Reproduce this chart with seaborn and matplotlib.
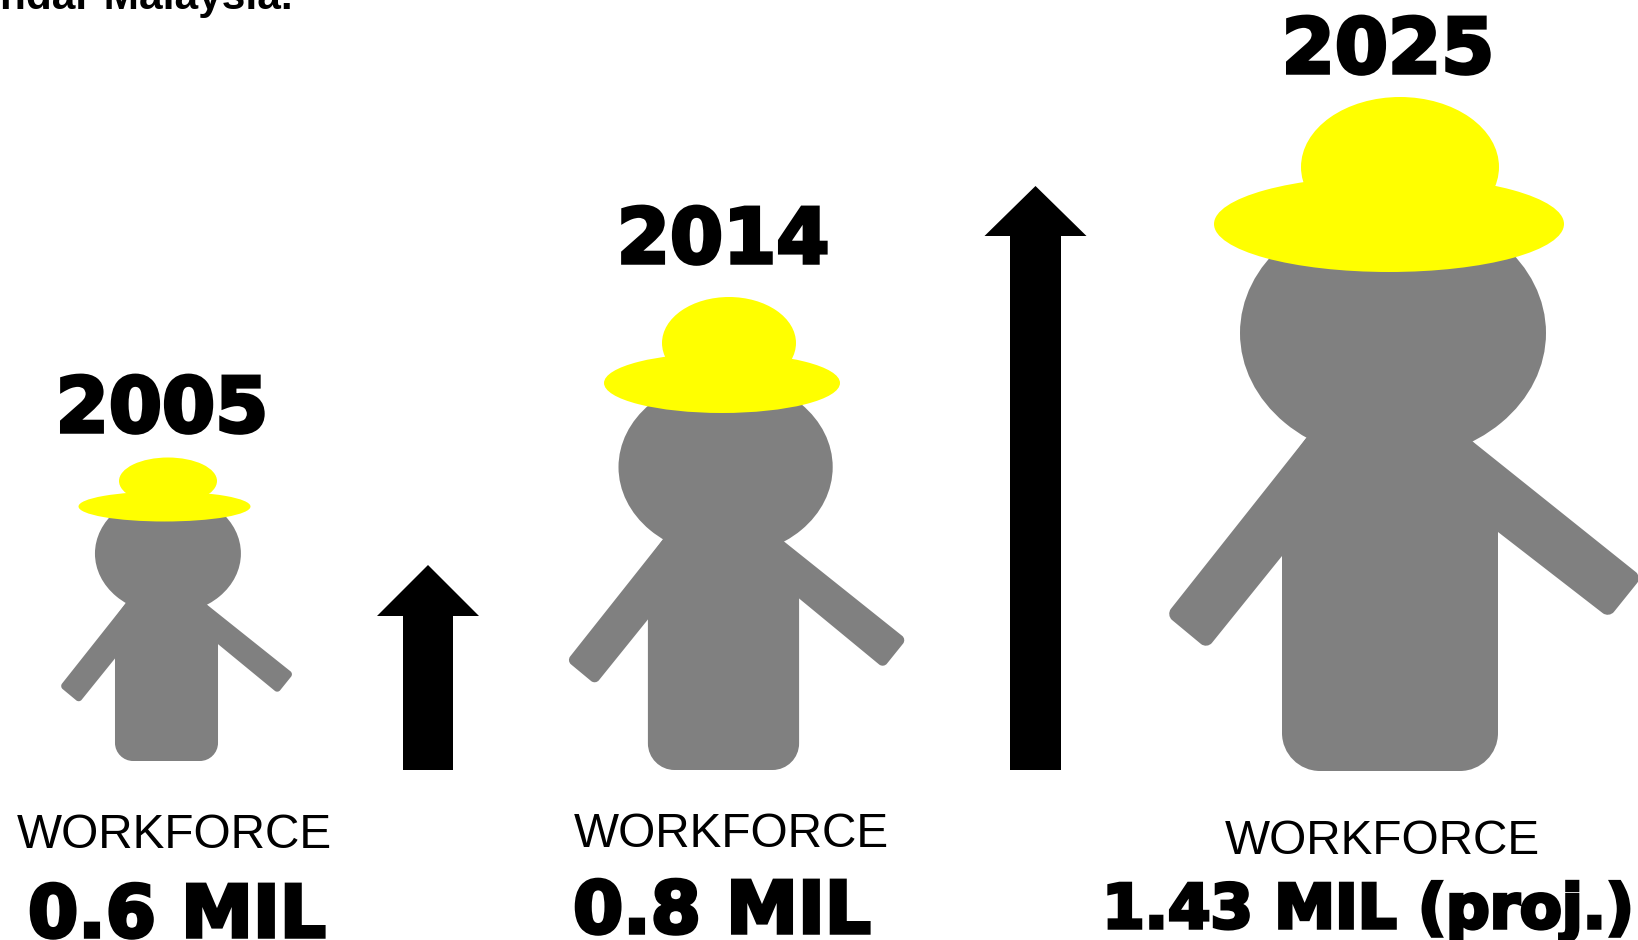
import matplotlib
matplotlib.use("Agg")
import matplotlib.pyplot as plt
import matplotlib.patheffects as pe
from matplotlib.patches import Ellipse, PathPatch
from matplotlib.path import Path
import numpy as np
import seaborn as sns

# data
years = ["2005", "2014", "2025"]
workforce_mil = [0.6, 0.8, 1.43]
value_suffix = ["", "", " (proj.)"]
top_note = "ndar Malaysia."

# layout, in reference pixels
FIG_W, FIG_H = 1638, 940
BASE = 770
fig_scale = [0.477, 0.70, 1.0]
fig_x = [166.5, 723.5, 1390]
fig_bottom = [761, 770, 771]
head_dy = [-1, -3, 1]
right_reach = [18, 12, 0]
right_inner = [245, 245, 239]
# hats: centre x, centre y, half width, half height
crowns = [(168, 481, 49, 23.5), (729, 343, 67, 46), (1400, 167, 99, 70)]
brims = [(164.5, 506.5, 86, 15), (722, 383, 118, 30), (1389, 224, 175, 48)]
year_pos = [(162, 432), (723, 263), (1388, 73)]
word_pos = [(174, 848), (731, 847), (1382, 854)]
value_pos = [(177, 937), (722, 933), (1368, 928)]
value_size = [52, 52, 44]
arrow_x = [428, 1035.5]
arrow_tip = [565, 186]
arrow_neck = [616, 236]
shaft_tops = [BASE - y + 1 for y in arrow_neck]
GREY = "#808080"
YELLOW = "#ffff00"

sns.set_theme(style="white")
plt.rcParams["font.family"] = ["Liberation Sans", "DejaVu Sans"]

fig = plt.figure(figsize=(FIG_W / 100, FIG_H / 100), dpi=100)
ax = fig.add_axes([0, 0, 1, 1])


def py(y):
    return BASE - y


def rounded_poly(pts, radii):
    # polygon with circular looking corners
    pts = np.array(pts, dtype=float)
    n = len(pts)
    verts, codes = [], []
    for i in range(n):
        p, a, b = pts[i], pts[i - 1], pts[(i + 1) % n]
        r = radii[i]
        p1 = p + (a - p) / np.linalg.norm(a - p) * r
        p2 = p + (b - p) / np.linalg.norm(b - p) * r
        verts += [p1, p1 + (p - p1) * 0.55, p2 + (p - p2) * 0.55, p2]
        codes += [Path.MOVETO if i == 0 else Path.LINETO, Path.CURVE4, Path.CURVE4, Path.CURVE4]
    verts.append(verts[0])
    codes.append(Path.CLOSEPOLY)
    return Path(verts, codes)


def person(i):
    cx, bottom, s = fig_x[i], fig_bottom[i], fig_scale[i]
    reach_x, reach_y = right_reach[i] * 0.79, right_reach[i] * 0.61

    def P(x, up):
        return (cx + x * s, py(bottom - up * s))

    parts = [
        # body
        ([P(-108, 0), P(108, 0), P(108, 300), P(82, 330), P(-83, 334), P(-108, 300)],
         [38 * s, 38 * s, 0.1, 0.1, 0.1, 0.1]),
        # left arm
        ([P(-83, 334), P(-108, 215), P(-183, 122), P(-224, 156)], [0.1, 0.1, 8 * s, 8 * s]),
        # right arm
        ([P(82, 330), P(252 + reach_x, 194 - reach_y), P(219 + reach_x, 153 - reach_y),
          P(108, right_inner[i])], [0.1, 8 * s, 8 * s, 0.1]),
    ]
    for pts, radii in parts:
        ax.add_patch(PathPatch(rounded_poly(pts, radii), fc=GREY, ec="none", zorder=2))
    ax.add_patch(Ellipse(P(3, 437 + head_dy[i] / s), 306 * s, 254 * s, fc=GREY, ec="none", zorder=2))
    # hat
    for hx, hy, rx, ry in (crowns[i], brims[i]):
        ax.add_patch(Ellipse((hx, py(hy)), 2 * rx, 2 * ry, fc=YELLOW, ec="none", zorder=3))


# arrow shafts as bars standing on the base line
sns.barplot(x=arrow_x, y=shaft_tops, native_scale=True, color="black", saturation=1,
            width=50.5 / (arrow_x[1] - arrow_x[0]), edgecolor="black", linewidth=0, ax=ax, zorder=2)
for x, tip, neck in zip(arrow_x, arrow_tip, arrow_neck):
    ax.fill([x - 51, x, x + 51], [py(neck), py(tip), py(neck)], color="black", lw=0, zorder=2)

for i in range(len(years)):
    person(i)

heavy = [pe.withStroke(linewidth=2.5, foreground="black", joinstyle="miter")]
for i, year in enumerate(years):
    ax.text(year_pos[i][0], py(year_pos[i][1]), year, ha="center", va="baseline",
            fontsize=55, fontweight="bold", family="DejaVu Sans", color="black",
            path_effects=heavy)
    ax.text(word_pos[i][0], py(word_pos[i][1]), "WORKFORCE", ha="center", va="baseline",
            fontsize=34.4, family="Liberation Sans", color="black")
    label = f"{workforce_mil[i]} MIL{value_suffix[i]}"
    ax.text(value_pos[i][0], py(value_pos[i][1]), label, ha="center", va="baseline",
            fontsize=value_size[i], fontweight="bold", family="DejaVu Sans", color="black",
            path_effects=heavy)

ax.text(0, py(9), top_note, ha="left", va="baseline", fontsize=30.5, fontweight="bold",
        family="Liberation Sans", color="black", clip_on=False)

ax.set_xlim(0, FIG_W)
ax.set_ylim(py(FIG_H), py(0))
ax.set_xlabel("")
ax.set_ylabel("")
ax.axis("off")
sns.despine(ax=ax, left=True, bottom=True)
fig.savefig("out.png", dpi=100, facecolor="white")
